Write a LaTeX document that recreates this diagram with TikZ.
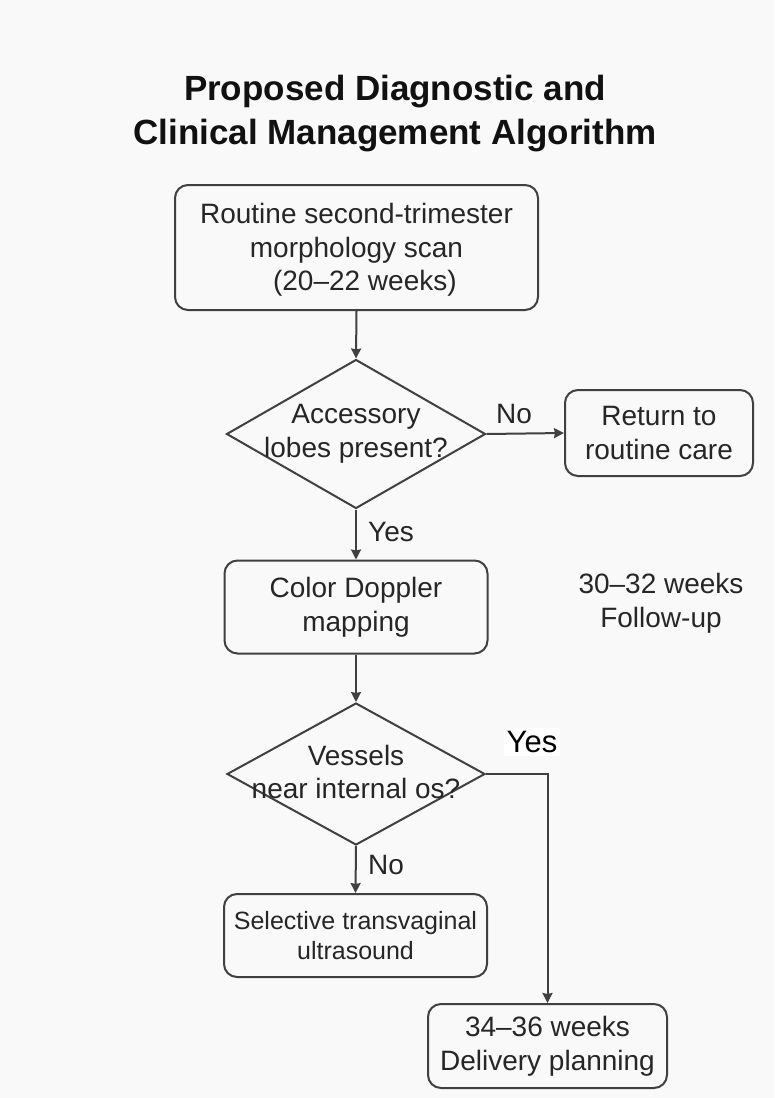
\documentclass[tikz,border=0pt]{standalone}
\usepackage{fontspec}
\setmainfont{Liberation Sans}
\usetikzlibrary{arrows.meta,shapes.geometric}
\definecolor{bg}{HTML}{F9F9F9}
\definecolor{ln}{HTML}{404040}
\definecolor{tx}{HTML}{262626}
\definecolor{ttl}{HTML}{111111}
\tikzset{
  body/.style={font=\fontsize{28}{33.6}\selectfont, text=tx, align=center, inner sep=0pt},
  procbox/.style={draw=ln, line width=2pt, rounded corners=13pt, fill=bg, inner sep=0pt},
  decis/.style={diamond, draw=ln, line width=2pt, inner sep=0pt},
  conn/.style={draw=ln, line width=2pt, -{Stealth[length=10pt,width=10pt,inset=1pt]}},
  lbl/.style={font=\fontsize{28}{33.6}\selectfont, text=tx, inner sep=0pt},
}
\begin{document}
\begin{tikzpicture}[x=1pt,y=-1pt]
\fill[bg] (0,0) rectangle (774,1098);
\useasboundingbox (0,0) rectangle (774,1098);

% title
\node[font=\fontsize{35}{44}\selectfont\bfseries, text=ttl, align=center, inner sep=0pt] (title) at (395,114)
  {Proposed Diagnostic and\\Clinical Management Algorithm};

% boxes
\node[procbox, minimum width=363pt, minimum height=125pt] (b1) at (356.5,247.5) {};
\node[body] (b1t) at (356.5,250) {Routine second-trimester\\morphology scan\\\hspace*{0.6em}(20--22 weeks)};

\node[decis, minimum width=259pt, minimum height=149pt] (d1) at (356,434) {};
\node[body] (d1t) at (356,434) {Accessory\\lobes present?};

\node[procbox, minimum width=188pt, minimum height=86pt] (r1) at (659,433) {};
\node[body] (r1t) at (r1.center) {Return to\\routine care};

\node[procbox, minimum width=263pt, minimum height=93pt] (b2) at (356,607) {};
\node[body] (b2t) at (b2.center) {Color Doppler\\mapping};

\node[body] (fu) at (661,603) {30--32 weeks\\Follow-up};

\node[decis, minimum width=258pt, minimum height=142pt] (d2) at (356,774) {};
\node[body] (d2t) at (356,772) {Vessels\\near internal os?};

\node[procbox, minimum width=263pt, minimum height=83pt] (b3) at (355.5,935.5) {};
\node[body, font=\fontsize{25}{30}\selectfont] (b3t) at (b3.center) {Selective transvaginal\\ultrasound};

\node[procbox, minimum width=239pt, minimum height=84pt] (b4) at (547.5,1046) {};
\node[body] (b4t) at (b4.center) {34--36 weeks\\Delivery planning};

% connectors
\draw[conn] (b1.south) -- (d1.north);
\draw[conn] (d1.east) -- (r1.west);
\draw[conn] (d1.south) -- (b2.north);
\draw[conn] (b2.south) -- (d2.north);
\draw[conn] (d2.south) -- (b3.north);
\draw[conn] (d2.east) -| (b4.north);

% labels
\node[lbl] (no1) at (514,414) {No};
\node[lbl] (yes1) at (391,532) {Yes};
\node[lbl] (no2) at (386,865) {No};
\node[font=\fontsize{31}{36}\selectfont, text=black, fill=white, inner sep=3pt] (yes2) at (532,742) {Yes};
\end{tikzpicture}
\end{document}
